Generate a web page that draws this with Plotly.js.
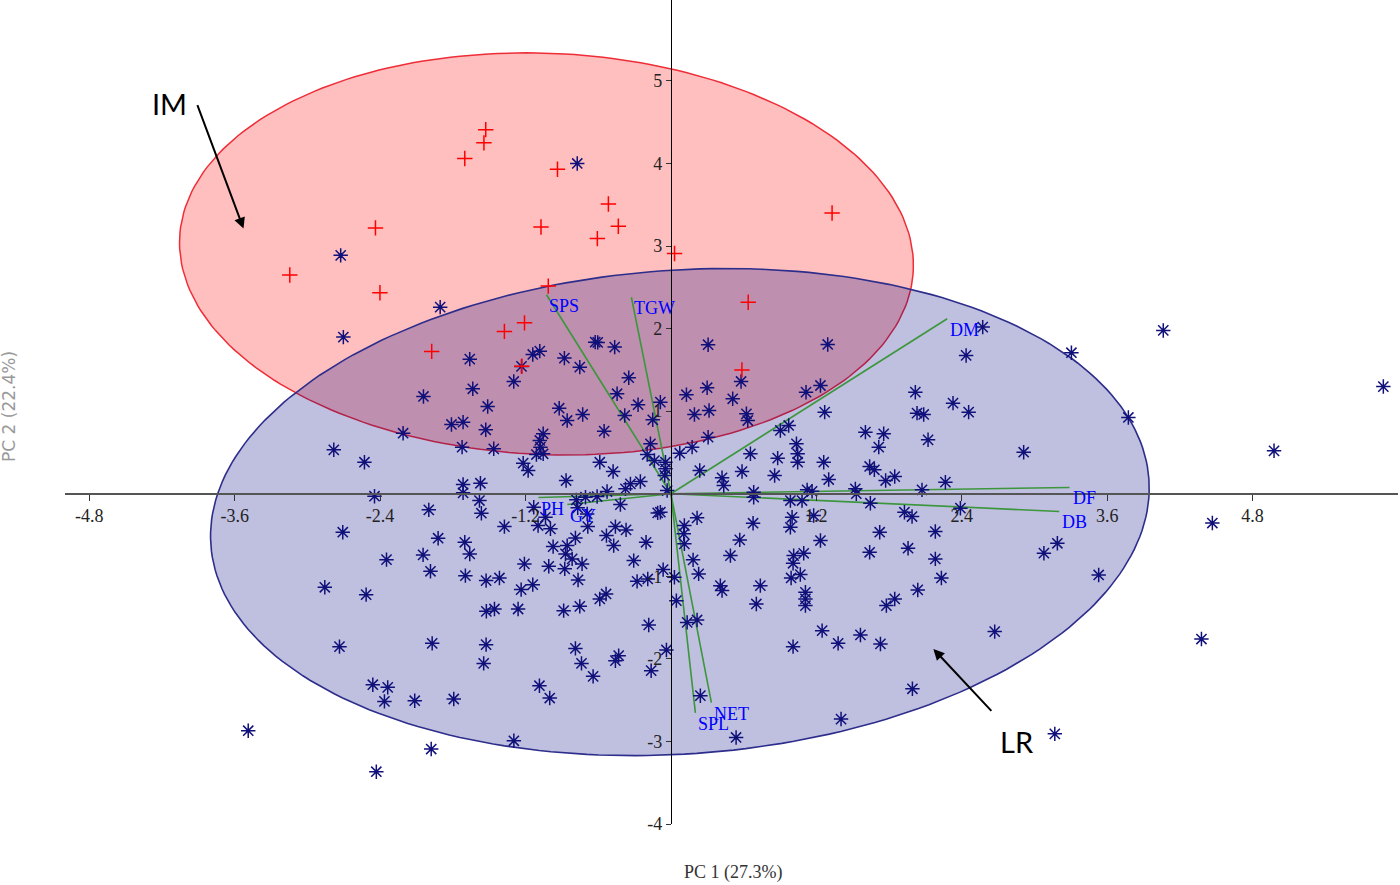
<!DOCTYPE html>
<html>
<head>
<meta charset="utf-8">
<script src="https://cdn.plot.ly/plotly-3.0.1.min.js"></script>
<style>html,body{margin:0;padding:0;background:#fff;}#chart{width:1400px;height:885px;}</style>
</head>
<body>
<div id="chart"></div>
<script>
// ---- Data ----
// IM group (red crosses)
const imX = [-1.528,-1.543,-1.701,-0.936,-0.516,-0.434,-0.607,-1.072,-2.438,-3.145,-2.401,-1.012,0.030,-1.208,-1.374,-1.974,-1.230,1.330,0.638,0.586];
const imY = [4.41,4.25,4.06,3.93,3.51,3.24,3.09,3.23,3.22,2.65,2.435,2.515,2.91,2.07,1.966,1.724,1.545,3.40,2.32,1.50];

// LR group (blue asterisks) as [PC1, PC2]
const lrPoints = [
[-0.773,4.00],[-2.725,2.887],[-1.904,2.26],[-2.703,1.897],
[-1.660,1.630],[-1.140,1.687],[-1.082,1.727],[-1.233,1.542],[-1.297,1.360],[-1.635,1.271],[-0.879,1.643],[-0.752,1.533],[-0.625,1.836],[-0.604,1.833],[-0.464,1.776],[-0.348,1.405],[-0.444,1.211],[-0.271,1.078],[-0.087,1.109],[-0.150,0.896],[0.128,1.199],[-0.381,0.948],[-2.042,1.178],[-1.512,1.057],[-0.922,1.036],[-0.856,0.887],[-0.728,0.960],[-1.811,0.839],[-1.715,0.867],[-1.528,0.775],[-1.054,0.726],[-1.082,0.645],[-1.077,0.564],[-1.054,0.484],[-1.110,0.475],[-0.551,0.758],[-2.210,0.733],[-1.723,0.564],[-1.462,0.544],[-0.169,0.605],[-0.196,0.475],[-0.136,0.402],[-0.045,0.382],[0.073,0.491],[-2.782,0.532],[-2.529,0.382],[-1.219,0.370],[-1.178,0.281],[-0.587,0.382],[-0.477,0.269],[-0.865,0.160],[-0.334,0.120],[-0.252,0.148],[-0.375,0.059],[-0.051,0.221],[-0.045,0.302],[-1.715,0.112],[-1.572,0.127],[-1.715,0.011],[-2.446,-0.03],
[0.307,1.805],[1.294,1.808],[2.573,2.018],[2.436,1.675],[0.579,1.360],[0.299,1.284],[0.510,1.150],[1.115,1.230],[1.234,1.311],[0.194,0.960],[0.315,1.008],[0.623,0.968],[0.634,0.887],[1.269,0.988],[2.017,1.230],[2.328,1.097],[2.457,0.988],[2.031,0.976],[2.086,0.960],[0.307,0.685],[0.175,0.564],[0.903,0.766],[0.972,0.827],[0.656,0.484],[1.036,0.605],[1.046,0.484],[1.046,0.382],[0.881,0.431],[1.261,0.382],[1.605,0.746],[1.756,0.726],[1.715,0.564],[2.122,0.653],[2.911,0.503],[0.238,0.281],[0.587,0.269],[0.856,0.221],[0.422,0.193],[0.436,0.099],[1.302,0.172],[1.640,0.330],[1.679,0.290],[1.772,0.160],[1.847,0.208],[2.265,0.140],[2.072,0.047],[1.522,0.059],[0.683,0.018],[1.124,0.047],[1.165,0.030],[-0.031,0.039],
[4.063,1.978],[5.879,1.298],[3.305,1.708],[3.775,0.924],[4.977,0.52],[4.468,-0.355],[4.378,-1.76],[3.168,-2.908],[3.530,-0.984],[2.672,-1.670],[1.993,-2.362],[3.189,-0.60],[3.078,-0.72],[1.404,-2.729],[0.538,-2.952],
[1.530,0.0],[1.646,-0.115],[0.986,-0.082],[1.082,-0.082],[1.178,-0.264],[1.000,-0.285],[0.986,-0.406],[1.927,-0.224],[1.990,-0.276],[2.389,-0.175],[1.723,-0.466],[2.182,-0.458],[1.234,-0.567],[1.640,-0.709],[1.957,-0.660],[2.182,-0.789],[1.013,-0.749],[1.096,-0.721],
[-0.087,-0.224],[0.216,-0.292],[0.111,-0.385],[0.106,-0.486],[0.111,-0.607],[0.678,-0.357],[0.568,-0.559],[0.491,-0.749],[0.183,-0.801],[0.229,-0.971],[-0.064,-0.919],[0.029,-1.012],[0.045,-1.295],[0.408,-1.113],[0.422,-1.173],[0.738,-1.113],[0.705,-1.335],[0.134,-1.558],[0.216,-1.529],[-0.037,-1.892],[0.243,-2.446],[0.683,-0.042],[1.008,-0.842],[0.992,-1.020],[1.068,-0.979],[1.110,-1.194],[1.110,-1.274],[1.110,-1.355],[2.232,-1.020],[2.037,-1.165],[1.847,-1.274],[1.778,-1.355],[1.248,-1.658],[1.380,-1.812],[1.564,-1.710],[1.729,-1.819],[1.008,-1.852],
[-1.132,-0.164],[-1.035,-0.285],[-0.994,-0.425],[-1.374,-0.398],[-0.780,-0.074],[-0.705,-0.042],[-0.609,-0.034],[-0.527,0.027],[-0.769,-0.171],[-0.691,-0.244],[-0.686,-0.398],[-0.417,-0.131],[-0.109,-0.232],[-0.458,-0.398],[-0.370,-0.438],[-0.532,-0.507],[-0.472,-0.628],[-0.788,-0.535],[-0.856,-0.628],[-0.870,-0.729],[-0.972,-0.640],[-0.733,-0.850],[-0.815,-0.789],[-1.008,-0.879],[-1.209,-0.850],[-0.205,-0.588],[-0.307,-0.810],
[-1.580,-0.082],[-1.564,-0.236],[-1.998,-0.195],[-2.708,-0.466],[-1.921,-0.539],[-1.701,-0.588],[-1.660,-0.729],[-2.347,-0.798],[-2.045,-0.741],[-1.984,-0.939],[-1.696,-0.992],[-1.525,-1.052],[-1.415,-1.020],[-1.096,-0.385],[-0.876,-0.910],[-0.766,-1.044],[-1.140,-1.101],[-1.236,-1.161],[-2.856,-1.133],[-2.515,-1.222],[-1.523,-1.424],[-1.456,-1.396],[-1.261,-1.396],[-0.885,-1.416],[-0.752,-1.364],[-0.587,-1.274],[-0.535,-1.214],[-0.279,-1.061],[-0.191,-1.032],[-0.183,-1.589],[-0.163,-2.143],[-0.431,-1.961],[-0.458,-2.022],[-0.788,-1.873],[-0.738,-2.055],[-0.642,-2.212],[-1.525,-1.828],[-1.545,-2.055],[-1.970,-1.812],[-2.735,-1.852],[-2.460,-2.313],[-2.337,-2.345],[-2.364,-2.515],[-2.114,-2.507],[-1.792,-2.486],[-1.085,-2.325],[-1.000,-2.474],
[-3.488,-2.870],[-1.978,-3.092],[-2.431,-3.367],[-1.296,-2.992]
];

// Variable loadings (biplot vectors)
const varNames = ['SPS','TGW','DM','DF','DB','NET','SPL','PH','GY'];
const loadX = [-1.027,-0.326,2.28,3.29,3.205,0.334,0.202,-1.093,-0.854];
const loadY = [2.41,2.38,2.12,0.076,-0.215,-2.53,-2.655,-0.046,-0.131];

// Group ellipses: [centre PC1, centre PC2, semi-axis along PC1, semi-axis along PC2, tilt deg]
const ellipseIM = [-1.027, 2.905, 3.03, 2.43, -2.5];
const ellipseLR = [0.074, -0.222, 3.88, 2.93, 4.0];

// Tick labels
const xTicks = [-4.8,-3.6,-2.4,-1.2,1.2,2.4,3.6,4.8];
const yTicks = [-4,-3,-2,-1,1,2,3,4,5];

// Group labels and arrows: [labelX, labelY, arrowTailX, arrowTailY, arrowHeadX, arrowHeadY]
const groupNames = ['IM','LR'];
const groupLabelPos = [[-4.138, 4.724, -3.912, 4.726, -3.527, 3.211],[2.859, -3.004, 2.656, -2.648, 2.166, -1.880]];

// ---- Layout geometry ----
const W = 1400, H = 885;
const M = {l:65, r:2, t:0, b:61};
const xRange = [-5.0, 6.0];
const yRange = [-4.0, 5.98];
const pxPerX = (W - M.l - M.r) / (xRange[1] - xRange[0]);
const pxPerY = (H - M.t - M.b) / (yRange[1] - yRange[0]);

function ellipsePath(p) {
  const [cx, cy, a, b, deg] = p;
  const th = deg * Math.PI / 180;
  const A = a * pxPerX, B = b * pxPerY;
  const xs = [], ys = [];
  for (let i = 0; i <= 240; i++) {
    const t = 2 * Math.PI * i / 240;
    const dx = A * Math.cos(t) * Math.cos(th) - B * Math.sin(t) * Math.sin(th);
    const dy = A * Math.cos(t) * Math.sin(th) + B * Math.sin(t) * Math.cos(th);
    xs.push(cx + dx / pxPerX);
    ys.push(cy + dy / pxPerY);
  }
  return {xs, ys};
}

const eIM = ellipsePath(ellipseIM);
const eLR = ellipsePath(ellipseLR);

const traces = [];
traces.push({x: eIM.xs, y: eIM.ys, type:'scatter', mode:'lines', fill:'toself',
  fillcolor:'rgba(255,0,0,0.25)', line:{color:'rgb(238,45,55)', width:1.5}, hoverinfo:'skip'});
traces.push({x: eLR.xs, y: eLR.ys, type:'scatter', mode:'lines', fill:'toself',
  fillcolor:'rgba(0,0,128,0.25)', line:{color:'rgb(45,45,140)', width:1.6}, hoverinfo:'skip'});

// loading vectors
const vx = [], vy = [];
for (let i = 0; i < varNames.length; i++) { vx.push(0, loadX[i], null); vy.push(0, loadY[i], null); }
traces.push({x: vx, y: vy, type:'scatter', mode:'lines', line:{color:'rgb(60,150,60)', width:1.6}, hoverinfo:'skip'});

traces.push({x: lrPoints.map(p=>p[0]), y: lrPoints.map(p=>p[1]), type:'scatter', mode:'markers',
  marker:{symbol:'asterisk-open', size:12, color:'#10107a', line:{color:'#10107a', width:1.5}}});
traces.push({x: imX, y: imY, type:'scatter', mode:'markers',
  marker:{symbol:'cross-thin-open', size:11, color:'#ff0000', line:{color:'#ff0000', width:1.5}}});

const annotations = [];
for (let i = 0; i < varNames.length; i++) {
  annotations.push({x: loadX[i], y: loadY[i], xref:'x', yref:'y', text: varNames[i], showarrow:false,
    xanchor:'left', yanchor:'middle', xshift:1, yshift:-11,
    font:{family:'Liberation Serif, serif', size:18, color:'#0000ff'}});
}
for (let i = 0; i < groupNames.length; i++) {
  const g = groupLabelPos[i];
  annotations.push({x: g[0], y: g[1], xref:'x', yref:'y', text: groupNames[i], showarrow:false,
    xanchor:'center', yanchor:'middle', font:{family:'Lato, sans-serif', size:29, color:'#000'}});
  annotations.push({x: g[4], y: g[5], ax: g[2], ay: g[3], xref:'x', yref:'y', axref:'x', ayref:'y',
    text:'', showarrow:true, arrowhead:2, arrowsize:1.1, arrowwidth:2, arrowcolor:'#000', standoff:0, startstandoff:0});
}
annotations.push({xref:'paper', yref:'paper', x:(733 - M.l)/(W - M.l - M.r), y:-(872-824)/824, text:'PC 1 (27.3%)',
  showarrow:false, xanchor:'center', yanchor:'middle', font:{family:'Liberation Serif, serif', size:18, color:'#333'}});
annotations.push({xref:'paper', yref:'paper', x:(9 - M.l)/(W - M.l - M.r), y:(824-407)/824, text:'PC 2 (22.4%)', textangle:-90,
  showarrow:false, xanchor:'center', yanchor:'middle', font:{family:'DejaVu Sans, sans-serif', size:17, color:'#999'}});

const layout = {
  width: W, height: H, margin: M, showlegend:false,
  paper_bgcolor:'#fff', plot_bgcolor:'#fff',
  xaxis:{range:xRange, anchor:'free', position:(0 - yRange[0])/(yRange[1]-yRange[0]),
    showline:true, linecolor:'#555', linewidth:2, ticks:'outside', ticklen:6, tickcolor:'#333', tickwidth:1,
    tickvals:xTicks, ticktext:xTicks.map(v=>String(v)), showgrid:false, zeroline:false,
    tickfont:{family:'Liberation Serif, serif', size:18, color:'#222'}},
  yaxis:{range:yRange, anchor:'free', position:(0 - xRange[0])/(xRange[1]-xRange[0]),
    showline:true, linecolor:'#000', linewidth:1, ticks:'outside', ticklen:5, tickcolor:'#333', tickwidth:1,
    tickvals:yTicks, ticktext:yTicks.map(v=>String(v)), showgrid:false, zeroline:false,
    tickfont:{family:'Liberation Serif, serif', size:18, color:'#222'}},
  annotations: annotations
};

Plotly.newPlot('chart', traces, layout, {displayModeBar:false, staticPlot:true});
</script>
</body>
</html>
